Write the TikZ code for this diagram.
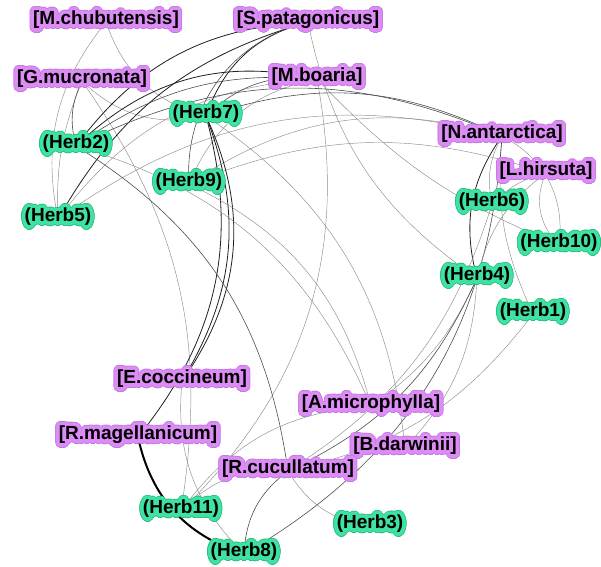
\documentclass[tikz,border=0pt]{standalone}
\usepackage{fontspec}
\setmainfont{Liberation Sans}
\usepackage[copies]{contour}
\contournumber{32}
\definecolor{plantfill}{HTML}{DC8CF4}
\definecolor{plantrim}{HTML}{C27BE0}
\definecolor{herbfill}{HTML}{3EE3A2}
\definecolor{herbrim}{HTML}{2EBE86}
% glowing label: soft rim, light halo, black text
\newcommand\glowtext[3]{{\contourlength{4.4pt}\rlap{\contour{#1}{\color{#1}#3}}\contourlength{3.5pt}\contour{#2}{#3}}}
\pgfdeclarelayer{edges}
\pgfsetlayers{edges,main}
\tikzset{
  lbl/.style={font=\bfseries\fontsize{19}{22}\selectfont, inner sep=0pt},
  lite/.style={draw=black!45, line width=0.45pt},
  mid/.style={draw=black!70, line width=0.6pt},
  dark/.style={draw=black!88, line width=0.8pt},
  heavy/.style={draw=black, line width=2pt},
}
\newcommand\plant[3]{\node[lbl] (#1) at (#2) {\glowtext{plantrim}{plantfill}{#3}};}
\newcommand\herb[3]{\node[lbl] (#1) at (#2) {\glowtext{herbrim}{herbfill}{#3}};}
\begin{document}
\begin{tikzpicture}[x=1pt,y=-1pt]
\useasboundingbox (0,0) rectangle (601,566);
% plants
\plant{mchub}{106,22}{[M.chubutensis]}
\plant{spat}{308,22}{[S.patagonicus]}
\plant{gmuc}{82,81}{[G.mucronata]}
\plant{mboa}{317,79}{[M.boaria]}
\plant{nant}{502,136}{[N.antarctica]}
\plant{lhir}{546,173}{[L.hirsuta]}
\plant{ecoc}{182,381}{[E.coccineum]}
\plant{amic}{371,406}{[A.microphylla]}
\plant{rmag}{138,437}{[R.magellanicum]}
\plant{bdar}{405,448}{[B.darwinii]}
\plant{rcuc}{288,471}{[R.cucullatum]}
% herbivores
\herb{h7}{206,116}{(Herb7)}
\herb{h2}{76,146}{(Herb2)}
\herb{h9}{189,184}{(Herb9)}
\herb{h5}{58,219}{(Herb5)}
\herb{h6}{492,204}{(Herb6)}
\herb{h10}{559,245}{(Herb10)}
\herb{h4}{477,278}{(Herb4)}
\herb{h1}{533,314}{(Herb1)}
\herb{h11}{181,511}{(Herb11)}
\herb{h3}{370,526}{(Herb3)}
\herb{h8}{244,554}{(Herb8)}
% interactions
\begin{pgfonlayer}{edges}
\draw[lite] (mchub.center) to[bend right=25] (h5.center);
\draw[lite] (mchub.center) to[bend right=28] (h7.center);
\draw[lite] (gmuc.center) to[bend right=12] (h5.center);
\draw[lite] (gmuc.center) to[bend right=28] (h7.center);
\draw[mid] (gmuc.center) to[bend right=20] (h2.center);
\draw[lite] (gmuc.center) to[bend left=22] (h11.center);
\draw[dark] (spat.center) to[bend right=25] (h2.center);
\draw[dark] (spat.center) to[bend right=22] (h5.center);
\draw[dark] (spat.center) to[bend right=28] (h7.center);
\draw[mid] (spat.center) to[bend right=40] (h9.center);
\draw[lite] (spat.center) to[bend right=22] (h4.center);
\draw[dark] (mboa.center) to[bend right=28] (h2.center);
\draw[mid] (mboa.center) to[bend right=20] (h2.center);
\draw[lite] (mboa.center) to[bend right=25] (h5.center);
\draw[mid] (mboa.center) to[bend right=25] (h7.center);
\draw[lite] (mboa.center) to[bend right=28] (h9.center);
\draw[lite] (mboa.center) to[bend right=12] (h10.center);
\draw[lite] (mboa.center) to[bend left=28] (h11.center);
\draw[mid] (nant.center) to[bend right=25] (h2.center);
\draw[lite] (nant.center) to[bend right=25] (h5.center);
\draw[mid] (nant.center) to[bend right=22] (h7.center);
\draw[lite] (nant.center) to[bend right=25] (h9.center);
\draw[dark] (nant.center) to[bend right=25] (h4.center);
\draw[lite] (nant.center) to[bend right=20] (h6.center);
\draw[lite] (nant.center) to[bend right=15] (h1.center);
\draw[lite] (nant.center) to[bend left=35] (h10.center);
\draw[mid] (nant.center) to[bend left=28] (h8.center);
\draw[lite] (lhir.center) to[bend right=20] (h9.center);
\draw[lite] (lhir.center) to[bend right=35] (h10.center);
\draw[lite] (lhir.center) to[bend right=15] (h6.center);
\draw[lite] (lhir.center) to[bend right=20] (h4.center);
\draw[dark] (ecoc.center) to[bend right=26] (h7.center);
\draw[dark] (ecoc.center) to[bend right=30] (h7.center);
\draw[lite] (ecoc.center) to[bend right=25] (h8.center);
\draw[dark] (rmag.center) to[bend right=27] (h7.center);
\draw[heavy] (rmag.center) to[bend right=30] (h8.center);
\draw[lite] (amic.center) to[bend right=25] (h11.center);
\draw[lite] (amic.center) to[bend right=25] (h2.center);
\draw[lite] (amic.center) to[bend right=25] (h9.center);
\draw[lite] (amic.center) to[bend right=15] (h4.center);
\draw[lite] (bdar.center) to[bend right=25] (h7.center);
\draw[lite] (bdar.center) to[bend right=20] (h4.center);
\draw[mid] (rcuc.center) to[bend right=25] (h2.center);
\draw[lite] (rcuc.center) to[bend right=25] (h3.center);
\draw[mid] (rcuc.center) to[bend right=25] (h8.center);
\draw[lite] (rcuc.center) to[bend right=25] (h11.center);
\draw[mid] (rcuc.center) to[bend right=20] (h4.center);
\draw[lite] (rcuc.center) to[bend right=20] (h6.center);
\draw[lite] (rcuc.center) to[bend right=20] (h1.center);
\end{pgfonlayer}
\end{tikzpicture}
\end{document}
